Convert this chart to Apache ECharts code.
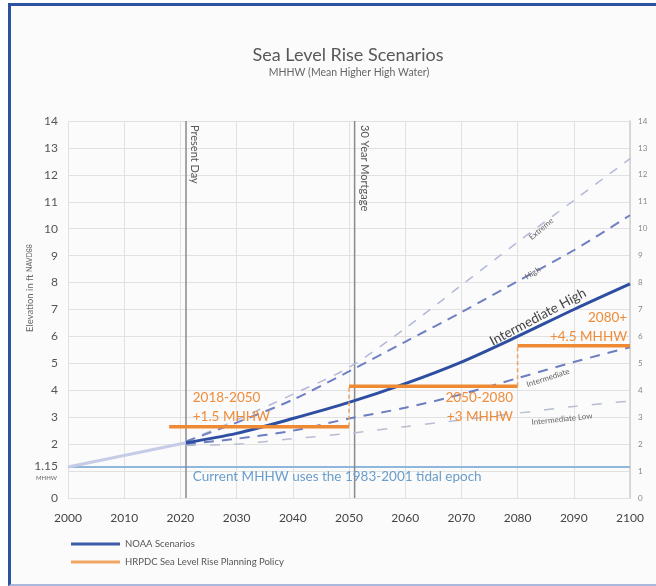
<!DOCTYPE html>
<html><head><meta charset="utf-8">
<script src="https://cdn.jsdelivr.net/npm/echarts@6/dist/echarts.min.js"></script>
<style>
html,body{margin:0;padding:0;background:#fff;width:656px;height:586px;overflow:hidden}
#frame{position:absolute;left:8px;top:3px;width:660px;height:583px;border:3px solid #2d52a0;border-right:none;border-bottom:2px solid #a9b8dc;background:#fbfbfb;box-sizing:border-box}
#chart{position:absolute;left:0;top:0;width:656px;height:586px}
</style></head>
<body><div id="frame"></div><div id="chart"></div>
<script>
// ---- data ----
const scenarioYears = [2021, 2030, 2040, 2050, 2060, 2070, 2080, 2090, 2100];
const intermediateHigh = [2.05, 2.4, 2.95, 3.55, 4.25, 5.05, 6.0, 7.0, 7.95];
const extreme = [2.1, 2.9, 3.85, 4.85, 6.3, 7.9, 9.5, 11.05, 12.6];
const high = [2.1, 2.8, 3.65, 4.7, 5.8, 6.9, 8.05, 9.2, 10.5];
const intermediate = [2.0, 2.2, 2.5, 2.95, 3.35, 3.85, 4.45, 5.05, 5.6];
const intermediateLow = [1.95, 2.0, 2.2, 2.4, 2.65, 2.9, 3.15, 3.4, 3.6];
const historyYears = [2000, 2021];
const historyLevels = [1.15, 2.05];
const mhhwLevel = 1.15;
const mhhwYears = [2000, 2100];
const policyStart = [2018, 2050, 2080];
const policyEnd = [2050, 2080, 2100];
const policyLevel = [2.65, 4.15, 5.65];
const presentDay = 2021;
const mortgageYear = 2051;
const yMin = 0, yMax = 14, yStep = 1;
const xMin = 2000, xMax = 2100, xStep = 10;

const FONT = 'Lato';
const zip = (xs, ys) => xs.map((x, i) => [x, ys[i]]);

const chart = echarts.init(document.getElementById('chart'), null, {renderer: 'canvas'});

const dashed = (name, data, color, width, dash) => ({
  name, type: 'line', data: zip(scenarioYears, data), smooth: 0.3, showSymbol: false, symbol: 'none',
  lineStyle: {color, width, type: dash}, z: 3, silent: true
});

const series = [
  {name: 'hist', type: 'line', data: zip(historyYears, historyLevels), symbol: 'none',
   lineStyle: {color: '#c6cbe6', width: 3}, z: 3, silent: true},
  {name: 'mhhw', type: 'line', data: mhhwYears.map(y => [y, mhhwLevel]), symbol: 'none',
   lineStyle: {color: '#8fb7dc', width: 2}, z: 2, silent: true},
  {name: 'present', type: 'line', data: [[presentDay, yMin], [presentDay, yMax]], symbol: 'none',
   lineStyle: {color: '#8a8a8a', width: 1.5}, z: 2, silent: true},
  {name: 'mortgage', type: 'line', data: [[mortgageYear, yMin], [mortgageYear, yMax]], symbol: 'none',
   lineStyle: {color: '#8a8a8a', width: 1.5}, z: 2, silent: true},
  dashed('Extreme', extreme, '#b3bad8', 1.5, [9, 9]),
  dashed('High', high, '#7080c2', 2, [10, 7]),
  dashed('Intermediate', intermediate, '#6d7ec0', 2, [10, 8]),
  dashed('Intermediate Low', intermediateLow, '#b8bdd2', 1.5, [10, 14]),
  {name: 'NOAA Scenarios', type: 'line', data: zip(scenarioYears, intermediateHigh), smooth: 0.3, symbol: 'none',
   lineStyle: {color: '#2e4ea1', width: 3}, itemStyle: {color: '#2e4ea1'}, z: 5, silent: true}
];
policyLevel.forEach((lv, i) => {
  series.push({name: 'HRPDC Sea Level Rise Planning Policy', type: 'line',
    data: [[policyStart[i], lv], [policyEnd[i], lv]], symbol: 'none',
    lineStyle: {color: '#ee8a34', width: 3.5}, itemStyle: {color: '#ee8a34'}, z: 6, silent: true});
  if (i > 0) {
    series.push({name: 'step' + i, type: 'line',
      data: [[policyStart[i], policyLevel[i - 1]], [policyStart[i], lv]], symbol: 'none',
      lineStyle: {color: '#f0a060', width: 1.5, type: [4, 3]}, z: 6, silent: true});
  }
});

const option = {
  animation: false,
  backgroundColor: 'transparent',
  textStyle: {fontFamily: FONT},
  grid: {left: 68, right: 26, top: 121, bottom: 88},
  xAxis: {type: 'value', min: xMin, max: xMax, interval: xStep,
    axisLine: {show: false}, axisTick: {show: false},
    axisLabel: {color: '#444', fontSize: 12, margin: 14, fontFamily: FONT, formatter: v => String(v)},
    splitLine: {show: true, lineStyle: {color: '#e1e1e1', width: 1}}},
  yAxis: [
    {type: 'value', min: yMin, max: yMax, interval: yStep, position: 'left',
     axisLine: {show: false}, axisTick: {show: false},
     axisLabel: {color: '#555', fontSize: 12, margin: 10, fontFamily: FONT,
       formatter: v => (v === 1 ? '' : String(v))},
     splitLine: {show: true, lineStyle: {color: '#e1e1e1', width: 1}}},
    {type: 'value', min: yMin, max: yMax, interval: yStep, position: 'right',
     axisLine: {show: true, lineStyle: {color: '#cfcfcf', width: 1.5}}, axisTick: {show: false},
     axisLabel: {color: '#888', fontSize: 8, margin: 8, fontFamily: FONT},
     splitLine: {show: false}}
  ],
  legend: {
    orient: 'vertical', left: 66, top: 533, itemWidth: 49, itemHeight: 3, itemGap: 6,
    selectedMode: false, icon: 'rect',
    textStyle: {color: '#555', fontSize: 9.5, fontFamily: FONT, lineHeight: 12},
    data: [
      {name: 'NOAA Scenarios', itemStyle: {color: '#3d5ba6'}},
      {name: 'HRPDC Sea Level Rise Planning Policy', itemStyle: {color: '#f2a663'}}
    ]
  },
  series
};
chart.setOption(option);

const px = (x, y) => chart.convertToPixel({xAxisIndex: 0, yAxisIndex: 0}, [x, y]);
const deg = d => d * Math.PI / 180;
const txt = (p, text, style, rotation, dx, dy) => ({
  type: 'text', x: p[0] + (dx || 0), y: p[1] + (dy || 0), rotation: rotation || 0, silent: true, z: 100,
  style: Object.assign({text, fontFamily: FONT}, style)
});

const graphics = [
  {type: 'text', x: 348, y: 55, silent: true,
   style: {text: 'Sea Level Rise Scenarios', fontFamily: FONT, fontSize: 18, fill: '#585858', align: 'center', verticalAlign: 'middle'}},
  {type: 'text', x: 349, y: 73, silent: true,
   style: {text: 'MHHW (Mean Higher High Water)', fontFamily: FONT, fontSize: 10.5, fill: '#666', align: 'center', verticalAlign: 'middle'}},
  {type: 'text', x: 30, y: 288, rotation: deg(90), silent: true,
   style: {text: 'Elevation in ft {s|NAVD88}', fontFamily: FONT, fontSize: 9.5, fill: '#666', align: 'center', verticalAlign: 'middle',
     rich: {s: {fontSize: 7, fill: '#666', fontFamily: FONT}}}},
  txt(px(xMin, mhhwLevel), '1.15', {fontSize: 12, fill: '#555', align: 'right', verticalAlign: 'middle'}, 0, -10, -1),
  txt(px(xMin, mhhwLevel), 'MHHW', {fontSize: 6, fill: '#666', align: 'right', verticalAlign: 'middle'}, 0, -11, 11),
  txt(px(presentDay, yMax), 'Present Day', {fontSize: 11, fill: '#555', align: 'left', verticalAlign: 'middle'}, deg(-90), 9, 4),
  txt(px(mortgageYear, yMax), '30 Year Mortgage', {fontSize: 11, fill: '#555', align: 'left', verticalAlign: 'middle'}, deg(-90), 10, 4),
  txt(px(2022.2, 0.78), 'Current MHHW uses the 1983-2001 tidal epoch', {fontSize: 13.5, fill: '#6a9dcb', align: 'left', verticalAlign: 'middle'}),
  txt(px(2022.2, 3.36), '2018-2050\n+1.5 MHHW', {fontSize: 13.5, lineHeight: 19, fill: '#ef8c3a', align: 'left', verticalAlign: 'middle'}),
  txt(px(2079.2, 3.36), '2050-2080\n+3 MHHW', {fontSize: 13.5, lineHeight: 19, fill: '#ef8c3a', align: 'right', verticalAlign: 'middle'}),
  txt(px(2099.5, 6.33), '2080+\n+4.5 MHHW', {fontSize: 13.5, lineHeight: 19, fill: '#ef8c3a', align: 'right', verticalAlign: 'middle'}),
  txt(px(2083.6, 6.72), 'Intermediate High', {fontSize: 13.5, fill: '#444', align: 'center', verticalAlign: 'middle'}, deg(28)),
  txt(px(2084.2, 9.99), 'Extreme', {fontSize: 8, fill: '#666', align: 'center', verticalAlign: 'middle'}, deg(40)),
  txt(px(2082.7, 8.35), 'High', {fontSize: 8, fill: '#666', align: 'center', verticalAlign: 'middle'}, deg(32)),
  txt(px(2085.4, 4.46), 'Intermediate', {fontSize: 8, fill: '#666', align: 'center', verticalAlign: 'middle'}, deg(18)),
  txt(px(2087.9, 2.93), 'Intermediate Low', {fontSize: 8, fill: '#666', align: 'center', verticalAlign: 'middle'}, deg(6))
];
chart.setOption({graphic: graphics});
</script></body></html>
